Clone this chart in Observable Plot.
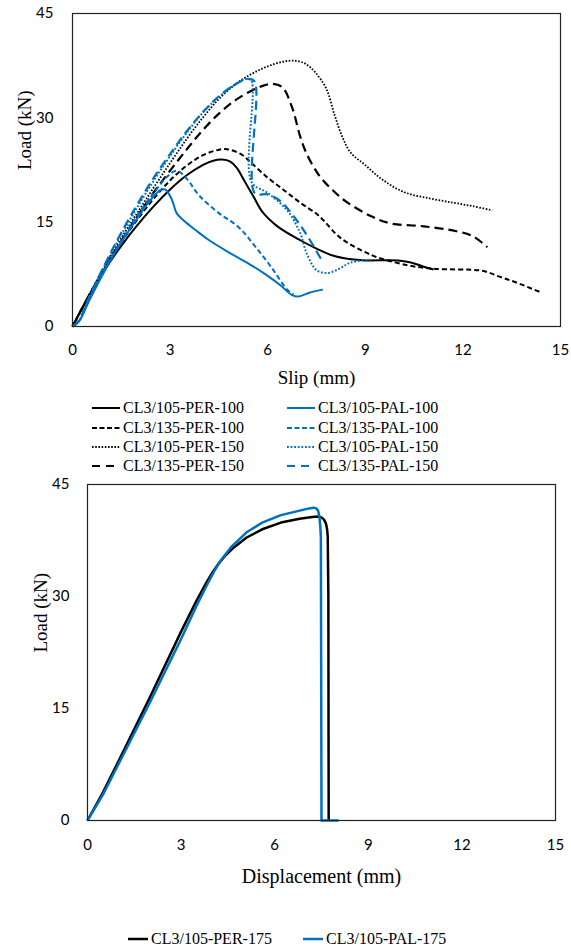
<!DOCTYPE html>
<html>
<head>
<meta charset="utf-8">
<script src="https://cdn.jsdelivr.net/npm/d3@7"></script>
<script src="https://cdn.jsdelivr.net/npm/@observablehq/plot@0.6"></script>
<style>
  html, body { margin: 0; padding: 0; background: #fff; }
  #wrap { position: relative; width: 571px; height: 951px; overflow: hidden; background: #fff; }
  #wrap svg.plot { display: block; }
  .leg { position: absolute; font-family: "Liberation Serif", "Times New Roman", serif; font-size: 16px; color: #000; white-space: nowrap; line-height: 1; }
  .leg .item { position: absolute; display: flex; align-items: center; }
  .leg .item svg { display: block; margin-right: 3px; }
</style>
</head>
<body>
<div id="wrap"></div>
<script>
// ---------- DATA ----------
// Top chart: Load (kN) vs Slip (mm), [slip, load]
const per100_105 = [[0,0],[0.5,4.3],[1,8.2],[1.5,11.6],[2,14.6],[2.5,17.3],[3,19.7],[3.5,21.7],[4,23.2],[4.3,23.8],[4.6,24.0],[4.85,23.7],[5.05,22.8],[5.3,20.8],[5.55,18.8],[5.85,16.4],[6.3,14.4],[7,12.4],[7.5,11.2],[8,10.2],[8.5,9.7],[9,9.5],[10,9.5],[10.4,9.2],[10.8,8.6],[11.1,8.2]];
const per100_135 = [[0,0],[0.5,4.4],[1,8.4],[1.5,12.1],[2,15.4],[2.5,18.4],[3,21],[3.5,23.1],[4,24.6],[4.4,25.3],[4.75,25.5],[5.2,24.7],[5.5,23.5],[6.0,21.4],[6.5,19.6],[7,17.8],[7.5,16.2],[7.75,15.1],[8.1,13.3],[8.4,12.2],[8.9,10.9],[9.4,9.9],[10.3,8.8],[11.1,8.3],[12.6,8.0],[13.1,7.2],[13.6,6.4],[14.4,4.9]];
const per150_105 = [[0,0],[0.5,4.5],[1,8.7],[1.5,12.7],[2,16.4],[2.5,20],[3,23.5],[3.5,26.9],[4,30],[4.5,32.7],[5,34.8],[5.5,36.3],[6,37.4],[6.5,38.1],[6.85,38.2],[7.15,37.8],[7.45,36.6],[7.8,34.2],[8.05,30.5],[8.3,27.2],[8.55,25],[9.0,23.2],[9.5,21.2],[10.2,19.3],[11,18.4],[11.7,17.8],[12.3,17.3],[12.9,16.7]];
const per150_135 = [[0,0],[0.5,4.4],[1,8.5],[1.5,12.3],[2,15.9],[2.5,19.3],[3,22.4],[3.5,25.4],[4,28.2],[4.5,30.6],[5,32.5],[5.5,33.9],[5.85,34.6],[6.15,34.9],[6.45,34.4],[6.75,31.5],[7.0,27.3],[7.2,24.8],[7.6,21.6],[8.0,19.6],[8.4,18.0],[9.2,15.8],[9.8,14.8],[10.8,14.4],[11.8,13.7],[12.3,13.0],[12.75,11.4]];
const pal100_105 = [[0,0],[0.2,0.7],[0.5,3.6],[1,8.1],[1.5,12.1],[2,15.6],[2.4,18.2],[2.7,19.6],[2.85,19.7],[3.05,18.3],[3.2,16.3],[3.4,15.3],[3.8,13.8],[4.2,12.4],[4.9,10.4],[5.5,8.8],[5.9,7.6],[6.4,5.9],[6.75,4.5],[6.95,4.3],[7.3,4.9],[7.7,5.3]];
const pal100_135 = [[0,0],[0.2,0.8],[0.5,3.8],[1,8.3],[1.5,12.3],[2,16],[2.5,19.2],[2.9,21.5],[3.2,22.4],[3.5,21.3],[3.9,18.8],[4.5,16.3],[5.1,14.3],[5.6,11.6],[6.1,8.6],[6.6,5.3],[6.8,4.6]];
const pal150_105 = [[0,0],[0.2,0.8],[0.5,4],[1,8.8],[1.5,13.2],[2,17.2],[2.5,21],[3,24.5],[3.5,27.8],[4,30.7],[4.5,33],[5,34.8],[5.35,35.6],[5.5,35.3],[5.5,20.8],[6.0,19.2],[6.6,16.7],[7.0,13.4],[7.2,10.5],[7.5,8.1],[7.85,7.7],[8.2,8.3],[8.55,9.2],[9.2,9.6]];
const pal150_135 = [[0,0],[0.2,0.9],[0.5,4.1],[1,9],[1.5,13.5],[2,17.6],[2.5,21.4],[3,24.8],[3.5,28],[4,30.8],[4.5,33.1],[5,34.8],[5.4,35.6],[5.6,35.2],[5.6,19.2],[6.0,19.0],[6.4,18.0],[6.9,15.2],[7.3,12.4],[7.7,9.2]];

// Bottom chart: Load (kN) vs Displacement (mm), [displacement, load]
const per175_105 = [[0,0],[0.5,3.8],[1,8.0],[2,16.5],[3,25.3],[3.5,29.5],[3.8,31.8],[4.0,33.2],[4.2,34.4],[4.4,35.4],[4.7,36.6],[5.1,37.9],[5.6,39.0],[6.2,39.9],[6.8,40.4],[7.2,40.65],[7.4,40.7],[7.5,40.6],[7.58,40.3],[7.64,39.8],[7.68,39.0],[7.7,38.0],[7.72,30],[7.73,0]];
const pal175_105 = [[0,0],[0.5,3.5],[1,7.6],[2,15.8],[3,24.3],[3.5,28.8],[3.8,31.3],[4.05,33.3],[4.3,35.0],[4.6,36.6],[5.1,38.6],[5.6,39.9],[6.2,40.9],[6.8,41.5],[7.1,41.8],[7.25,41.9],[7.33,41.8],[7.39,41.5],[7.43,40.8],[7.46,39.5],[7.48,38],[7.5,0],[8.05,0]];

// Labels / ticks
const xTicks = [0, 3, 6, 9, 12, 15];
const yTicks = [0, 15, 30, 45];
const topNames = ["CL3/105-PER-100","CL3/135-PER-100","CL3/105-PER-150","CL3/135-PER-150","CL3/105-PAL-100","CL3/135-PAL-100","CL3/105-PAL-150","CL3/135-PAL-150"];
const bottomNames = ["CL3/105-PER-175","CL3/105-PAL-175"];

// ---------- STYLES ----------
const BLUE = "#0070c0", BLACK = "#000000";
const styleSolid = {dash: null, w: 2};
const styleShort = {dash: "5,3", w: 2};
const styleDot = {dash: "1.6,1.6", w: 1.8};
const styleLong = {dash: "9,5", w: 2.2};

const topSeries = [
  {name: topNames[0], data: per100_105, color: BLACK, s: styleSolid},
  {name: topNames[1], data: per100_135, color: BLACK, s: styleShort},
  {name: topNames[2], data: per150_105, color: BLACK, s: styleDot},
  {name: topNames[3], data: per150_135, color: BLACK, s: styleLong},
  {name: topNames[4], data: pal100_105, color: BLUE, s: styleSolid},
  {name: topNames[5], data: pal100_135, color: BLUE, s: styleShort},
  {name: topNames[6], data: pal150_105, color: BLUE, s: {dash: "1.8,1.8", w: 2}},
  {name: topNames[7], data: pal150_135, color: BLUE, s: styleLong}
];
const bottomSeries = [
  {name: bottomNames[0], data: per175_105, color: BLACK, s: {dash: null, w: 2.5}},
  {name: bottomNames[1], data: pal175_105, color: BLUE, s: {dash: null, w: 2.5}}
];

const SERIF = "Liberation Serif, Times New Roman, serif";
const TICKFONT = "Lato, sans-serif";

function lineMarks(series, curve) {
  return series.map(d => Plot.line(d.data, {
    x: p => p[0], y: p => p[1],
    stroke: d.color, strokeWidth: d.s.w,
    strokeDasharray: d.s.dash || undefined,
    strokeLinejoin: "round", strokeLinecap: "butt", curve
  }));
}

const wrap = document.getElementById("wrap");

// ---------- TOP CHART ----------
const chartTop = Plot.plot({
  width: 571, height: 395,
  marginTop: 13, marginRight: 11, marginBottom: 69, marginLeft: 72,
  style: {fontFamily: TICKFONT, fontSize: "15px", color: "#000", background: "transparent"},
  x: {domain: [0, 15], ticks: xTicks},
  y: {domain: [0, 45], ticks: yTicks},
  marks: [
    Plot.axisX({ticks: xTicks, tickSize: 0, tickPadding: 18, label: null, fontSize: 15}),
    Plot.axisY({ticks: yTicks, tickSize: 0, tickPadding: 19, label: null, fontSize: 15}),
    ...lineMarks(topSeries, "catmull-rom"),
    Plot.frame({stroke: "#222", strokeWidth: 1.2}),
    Plot.text(["Slip (mm)"], {frameAnchor: "bottom", dy: 57, fontFamily: SERIF, fontSize: 19}),
    Plot.text(["Load (kN)"], {frameAnchor: "left", dx: -48, rotate: -90, fontFamily: SERIF, fontSize: 19})
  ]
});
chartTop.style.position = "absolute"; chartTop.style.left = "0px"; chartTop.style.top = "0px";
wrap.appendChild(chartTop);

// ---------- BOTTOM CHART ----------
const chartBottom = Plot.plot({
  width: 571, height: 440,
  marginTop: 19, marginRight: 16, marginBottom: 85, marginLeft: 87,
  style: {fontFamily: TICKFONT, fontSize: "15px", color: "#000", background: "transparent"},
  x: {domain: [0, 15], ticks: xTicks},
  y: {domain: [0, 45], ticks: yTicks},
  marks: [
    Plot.axisX({ticks: xTicks, tickSize: 0, tickPadding: 19, label: null, fontSize: 15}),
    Plot.axisY({ticks: yTicks, tickSize: 0, tickPadding: 18, label: null, fontSize: 15}),
    ...lineMarks(bottomSeries, "linear"),
    Plot.frame({stroke: "#222", strokeWidth: 1.2}),
    Plot.text(["Displacement (mm)"], {frameAnchor: "bottom", dy: 62, fontFamily: SERIF, fontSize: 20}),
    Plot.text(["Load (kN)"], {frameAnchor: "left", dx: -47, rotate: -90, fontFamily: SERIF, fontSize: 19})
  ]
});
chartBottom.style.position = "absolute"; chartBottom.style.left = "0px"; chartBottom.style.top = "465px";
wrap.appendChild(chartBottom);

// ---------- LEGENDS ----------
function sampleSvg(color, s, w) {
  const ns = "http://www.w3.org/2000/svg";
  const svg = document.createElementNS(ns, "svg");
  svg.setAttribute("width", w); svg.setAttribute("height", 10);
  const ln = document.createElementNS(ns, "line");
  ln.setAttribute("x1", 0); ln.setAttribute("x2", w);
  ln.setAttribute("y1", 5); ln.setAttribute("y2", 5);
  ln.setAttribute("stroke", color); ln.setAttribute("stroke-width", s.w);
  if (s.dash) ln.setAttribute("stroke-dasharray", s.dash);
  svg.appendChild(ln);
  return svg;
}
function legend(series, topPx, cols, rowTops, sampleW) {
  const div = document.createElement("div");
  div.className = "leg";
  div.style.left = "0px"; div.style.top = topPx + "px";
  div.style.width = "571px"; div.style.height = "1px";
  series.forEach((d, i) => {
    const col = i < rowTops.length ? 0 : 1;
    const row = i % rowTops.length;
    const it = document.createElement("div");
    it.className = "item";
    it.style.left = cols[col] + "px";
    it.style.top = (rowTops[row] - 9) + "px";
    it.appendChild(sampleSvg(d.color, d.s, sampleW));
    const t = document.createElement("span");
    t.textContent = d.name;
    it.appendChild(t);
    div.appendChild(it);
  });
  wrap.appendChild(div);
}
const legTop = topSeries.map(d => ({...d, s: d.s === styleLong ? {dash: "8,6", w: 2.2} : d.s === styleShort ? {dash: "5,2.5", w: 2} : d.s}));
legend(legTop, 395, [92, 287], [14, 34, 53, 72], 28);
legend(bottomSeries, 900, [128, 303], [40], 20);
</script>
</body>
</html>
